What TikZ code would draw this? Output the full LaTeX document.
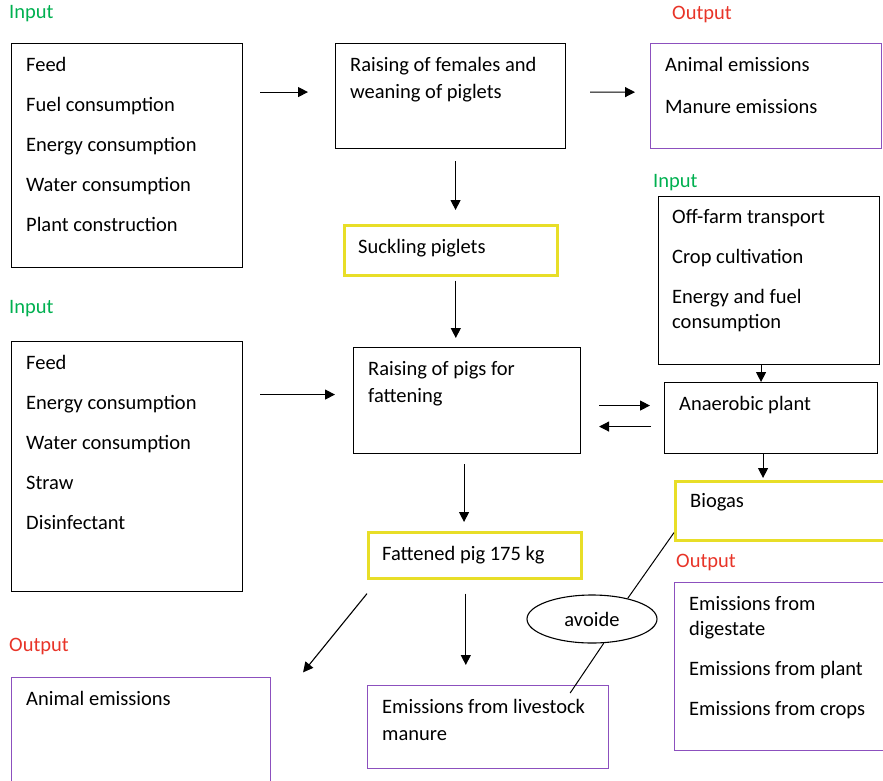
\documentclass[tikz,border=0pt]{standalone}
\usepackage{fontspec}
\setmainfont{Carlito}
\usetikzlibrary{shapes.geometric,arrows.meta}
\definecolor{ingreen}{RGB}{0,176,80}
\definecolor{outred}{RGB}{232,52,40}
\definecolor{outpurple}{RGB}{140,80,190}
\definecolor{prodyellow}{RGB}{232,222,40}

\begin{document}
\begin{tikzpicture}[x=1pt, y=-1pt,
    box/.style={draw, line width=1.1pt, anchor=north west, inner sep=0pt},
    outbox/.style={box, draw=outpurple, line width=1.3pt},
    prodbox/.style={box, draw=prodyellow, line width=2.6pt},
    txt/.style={anchor=north west, inner sep=0pt, align=left, font=\fontsize{20.5}{40}\selectfont},
    twoline/.style={txt, font=\fontsize{20.5}{27}\selectfont},
    inlabel/.style={anchor=west, inner sep=0pt, text=ingreen, font=\fontsize{20.5}{24}\selectfont},
    outlabel/.style={inlabel, text=outred},
    arrow/.style={-{Triangle[length=10pt,width=10pt]}, line width=1.1pt},
    link/.style={line width=1pt}
]
\clip (0,0) rectangle (883,780);

% labels
\node[inlabel] (lin1) at (9,14) {Input};
\node[outlabel] (lout1) at (672,14) {Output};
\node[inlabel] (lin3) at (653,183) {Input};
\node[inlabel] (lin2) at (9,309) {Input};
\node[outlabel] (lout2) at (676,562) {Output};
\node[outlabel] (lout3) at (9,646) {Output};

% boxes
\node[box, minimum width=231pt, minimum height=224pt] (in1) at (11,43) {};
\node[box, minimum width=230pt, minimum height=105pt] (rf) at (335,43) {};
\node[outbox, minimum width=231pt, minimum height=105pt] (out1) at (650,43) {};
\node[prodbox, minimum width=213pt, minimum height=50pt] (suck) at (343,224) {};
\node[box, minimum width=221pt, minimum height=168pt] (in3) at (658,196) {};
\node[box, minimum width=231pt, minimum height=250pt] (in2) at (11,341) {};
\node[box, minimum width=227pt, minimum height=106pt] (pigs) at (353,347) {};
\node[box, minimum width=213pt, minimum height=71pt] (ana) at (664,382) {};
\node[prodbox, minimum width=230pt, minimum height=59pt] (bio) at (674,480) {};
\node[prodbox, minimum width=213pt, minimum height=46pt] (fat) at (367,531) {};
\node[outbox, minimum width=230pt, minimum height=168pt] (out2) at (674,582) {};
\node[outbox, minimum width=259pt, minimum height=120pt] (out3) at (11,677) {};
\node[outbox, minimum width=241pt, minimum height=83pt] (live) at (367,685) {};
\node[draw, ellipse, line width=1.1pt, minimum width=130pt, minimum height=48pt,
      font=\fontsize{20.5}{24}\selectfont] (avoid) at (592,619) {avoide};

% texts
\node[txt] (in1-t) at ([shift={(15,14)}]in1.north west)
  {Feed\\Fuel consumption\\Energy consumption\\Water consumption\\Plant construction};
\node[twoline] (rf-t) at ([shift={(15,14)}]rf.north west) {Raising of females and\\weaning of piglets};
\node[txt] (out1-t) at ([shift={(15,14)}]out1.north west) {Animal emissions\\[2pt]Manure emissions};
\node[txt] (suck-t) at ([shift={(15,15)}]suck.north west) {Suckling piglets};
\node[txt] (in3-t) at ([shift={(14,13)}]in3.north west)
  {Off-farm transport\\Crop cultivation\\Energy and fuel\\[-15pt]consumption};
\node[txt] (in2-t) at ([shift={(15,14)}]in2.north west)
  {Feed\\Energy consumption\\Water consumption\\Straw\\Disinfectant};
\node[twoline] (pigs-t) at ([shift={(15,14)}]pigs.north west) {Raising of pigs for\\fattening};
\node[txt] (ana-t) at ([shift={(15,14)}]ana.north west) {Anaerobic plant};
\node[txt] (bio-t) at ([shift={(16,13)}]bio.north west) {Biogas};
\node[txt] (fat-t) at ([shift={(15,15)}]fat.north west) {Fattened pig 175 kg};
\node[txt] (out2-t) at ([shift={(15,14)}]out2.north west)
  {Emissions from\\[-15pt]digestate\\Emissions from plant\\Emissions from crops};
\node[txt] (out3-t) at ([shift={(15,14)}]out3.north west) {Animal emissions};
\node[twoline] (live-t) at ([shift={(15,14)}]live.north west) {Emissions from livestock\\manure};

% arrows
\draw[arrow, shorten <=17pt, shorten >=27pt] ([yshift=4pt]in1.east |- rf.west) -- ([yshift=4pt]rf.west);
\draw[arrow, shorten <=24pt, shorten >=15pt] ([yshift=4pt]rf.east) -- ([yshift=4pt]out1.west);
\draw[arrow, shorten <=12pt, shorten >=14pt] ([xshift=5pt]rf.south) -- ([xshift=5pt]rf.south |- suck.north);
\draw[arrow, shorten <=4pt, shorten >=9pt] ([xshift=5pt]suck.south) -- ([xshift=5pt]suck.south |- pigs.north);
\draw[arrow, shorten <=17pt, shorten >=18pt] ([yshift=6pt]in2.east |- pigs.west) -- ([yshift=6pt]pigs.west);
\draw[arrow, shorten <=18pt, shorten >=14pt] ([yshift=-5pt]pigs.east) -- ([yshift=-5pt]pigs.east -| ana.west);
\draw[arrow, shorten <=13pt, shorten >=18pt] ([yshift=-26pt]pigs.east -| ana.west) -- ([yshift=-26pt]pigs.east);
\draw[arrow] ([xshift=-8pt]in3.south) -- ([xshift=-8pt]in3.south |- ana.north);
\draw[arrow, shorten >=2pt] ([xshift=-8pt]ana.south) -- ([xshift=-8pt]ana.south |- bio.north);
\draw[arrow, shorten <=10pt, shorten >=9pt] ([xshift=-3pt]pigs.south) -- ([xshift=-3pt]pigs.south |- fat.north);
\draw[arrow, shorten >=6pt] ([yshift=-14pt]fat.south west) -- ([xshift=28pt]out3.north east);
\draw[arrow, shorten <=14pt, shorten >=20pt] ([xshift=-9pt]fat.south) -- ([xshift=-9pt]fat.south |- live.north);

% avoided emissions
\draw[link] ([yshift=9pt]bio.south west) -- (avoid.30);
\draw[link] (avoid.-64) -- ([shift={(82,8)}]live.north);
\end{tikzpicture}
\end{document}
